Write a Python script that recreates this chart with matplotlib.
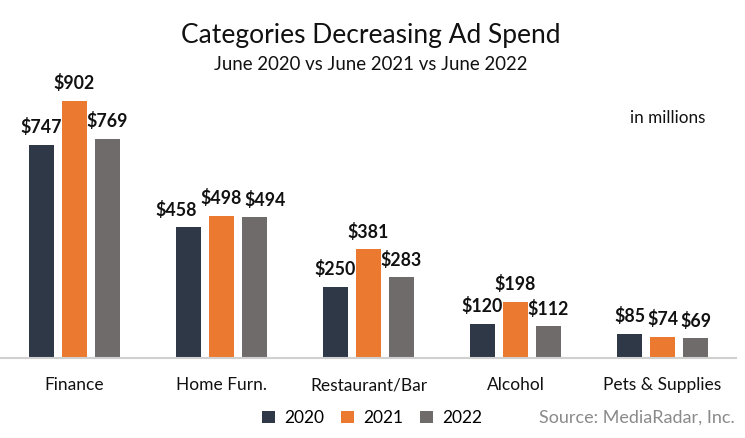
import matplotlib
matplotlib.use("Agg")
import matplotlib.pyplot as plt
import numpy as np
from matplotlib.patches import Patch

categories = ["Finance", "Home Furn.", "Restaurant/Bar", "Alcohol", "Pets & Supplies"]
years = ["2020", "2021", "2022"]
v2020 = [747, 458, 250, 120, 85]
v2021 = [902, 498, 381, 198, 74]
v2022 = [769, 494, 283, 112, 69]
series = [v2020, v2021, v2022]
colors = ["#2F3847", "#EB7A30", "#6F6B6A"]

# horizontal nudges of value labels (in category units), as in the reference
label_shift = {(0, 1): -0.085, (2, 1): 0.07}

plt.rcParams['font.family'] = ['Lato', 'DejaVu Sans']

fig = plt.figure(figsize=(7.45, 4.38), dpi=100)
W, H = 745, 438
ax = fig.add_axes([1 / W, (H - 358) / H, 735 / W, 278 / H])
x = np.arange(len(categories))
bw = 0.172
off = 0.224
for i, (vals, c) in enumerate(zip(series, colors)):
    bars = ax.bar(x + (i - 1) * off, vals, width=bw, color=c, label=years[i], zorder=2)
    for j, (b, v) in enumerate(zip(bars, vals)):
        dx = label_shift.get((i, j), 0.0)
        ax.text(b.get_x() + b.get_width() / 2 + dx, v + 30, f"${v}", ha="center", va="bottom",
                fontsize=12.8, fontweight="bold", color="#111111")

ax.set_xlim(-0.5, len(categories) - 0.5)
ax.set_ylim(0, 975)
for s in ["top", "right", "left"]:
    ax.spines[s].set_visible(False)
ax.spines["bottom"].set_color("#D0D0D0")
ax.spines["bottom"].set_linewidth(1.5)
ax.set_yticks([])
ax.set_xticks(x)
ax.set_xticklabels(categories, fontsize=12.5, color="#111111")
ax.tick_params(axis="x", length=0, pad=14)

fig.text(371 / W, 1 - 36 / H, "Categories Decreasing Ad Spend", ha="center", va="center",
         fontsize=19, color="#111111")
fig.text(371 / W, 1 - 64 / H, "June 2020 vs June 2021 vs June 2022", ha="center", va="center",
         fontsize=13.4, color="#111111")
fig.text(668 / W, 1 - 118 / H, "in millions", ha="center", va="center", fontsize=12.3, color="#111111")
fig.text(735 / W, 1 - 418 / H, "Source: MediaRadar, Inc.", ha="right", va="center",
         fontsize=13, color="#8A8A8A")

handles = [Patch(facecolor=c, label=y) for c, y in zip(colors, years)]
fig.legend(handles=handles, loc="center", bbox_to_anchor=(372 / W, 1 - 418 / H), ncol=3,
           frameon=False, fontsize=12.5, handlelength=0.75, handleheight=0.75,
           handletextpad=0.5, columnspacing=1.0)

fig.savefig("out.png", dpi=100)
